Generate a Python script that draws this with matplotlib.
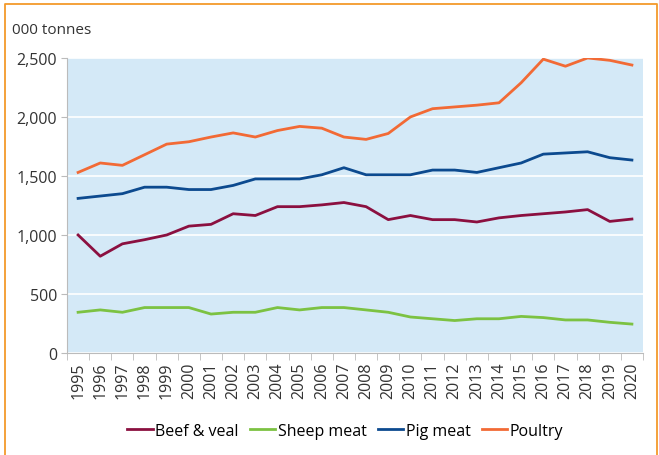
import matplotlib.pyplot as plt
import numpy as np
from matplotlib.lines import Line2D

years = [str(y) for y in range(1995, 2021)]
beef = [1000, 820, 925, 960, 1000, 1075, 1090, 1180, 1165, 1240, 1240, 1255, 1275,
        1240, 1130, 1165, 1130, 1130, 1110, 1145, 1165, 1180, 1195, 1215, 1115, 1135]
sheep = [345, 365, 345, 385, 385, 385, 330, 345, 345, 385, 365, 385, 385,
         365, 345, 305, 290, 275, 290, 290, 310, 300, 280, 280, 260, 245]
pig = [1310, 1330, 1350, 1405, 1405, 1385, 1385, 1420, 1475, 1475, 1475, 1510, 1570,
       1510, 1510, 1510, 1550, 1550, 1530, 1570, 1610, 1685, 1695, 1705, 1655, 1635]
poultry = [1530, 1610, 1590, 1680, 1770, 1790, 1830, 1865, 1830, 1885, 1920, 1905, 1830,
           1810, 1860, 2000, 2070, 2085, 2100, 2120, 2290, 2490, 2430, 2500, 2480, 2440]

series = [("Beef & veal", beef, "#8b1040"),
          ("Sheep meat", sheep, "#7cc242"),
          ("Pig meat", pig, "#0c4a8f"),
          ("Poultry", poultry, "#f26a35")]

plt.rcParams['font.family'] = ['Open Sans', 'DejaVu Sans']
fig = plt.figure(figsize=(6.59, 4.56), dpi=100)
ax = fig.add_axes([0.1017, 0.2237, 0.874, 0.647])
ax.set_facecolor("#d4e9f7")

x = np.arange(len(years))
for name, vals, col in series:
    ax.plot(x, vals, color=col, lw=2.0, label=name)

ax.set_xlim(-0.5, len(years) - 0.5)
ax.set_ylim(0, 2500)
ax.set_yticks([0, 500, 1000, 1500, 2000, 2500])
ax.set_yticklabels(["0", "500", "1,000", "1,500", "2,000", "2,500"], fontsize=11.5, color="#333333")
ax.set_xticks(x)
ax.set_xticklabels(years, rotation=90, fontsize=11.5, color="#333333")
ax.set_xticks(np.arange(len(years) + 1) - 0.5, minor=True)
ax.tick_params(axis='x', which='major', length=0, pad=6)
ax.tick_params(axis='x', which='minor', length=5, color="#bbbbbb")
ax.tick_params(axis='y', length=4, color="#bbbbbb", pad=3)
ax.grid(axis='y', color="white", lw=1.2)
ax.set_axisbelow(True)
for s in ['top', 'right']:
    ax.spines[s].set_visible(False)
for s in ['left', 'bottom']:
    ax.spines[s].set_color("#bbbbbb")

fig.text(12 / 659, 1 - 30 / 456, "000 tonnes", fontsize=11, color="#333333", va='center')

fig.legend(loc='center', bbox_to_anchor=(345 / 659, 1 - 432 / 456), ncol=4, frameon=False,
           fontsize=11.5, handlelength=1.6, handletextpad=0.15, columnspacing=0.7)

# orange frame: left, top, right only
bx = [4.5 / 659, 4.5 / 659, 657 / 659, 657 / 659]
by = [0.0, 1 - 4.5 / 456, 1 - 4.5 / 456, 0.0]
fig.lines.append(Line2D(bx, by, transform=fig.transFigure, color="#f39a2b", lw=1.3))

fig.savefig("out.png", dpi=100)
